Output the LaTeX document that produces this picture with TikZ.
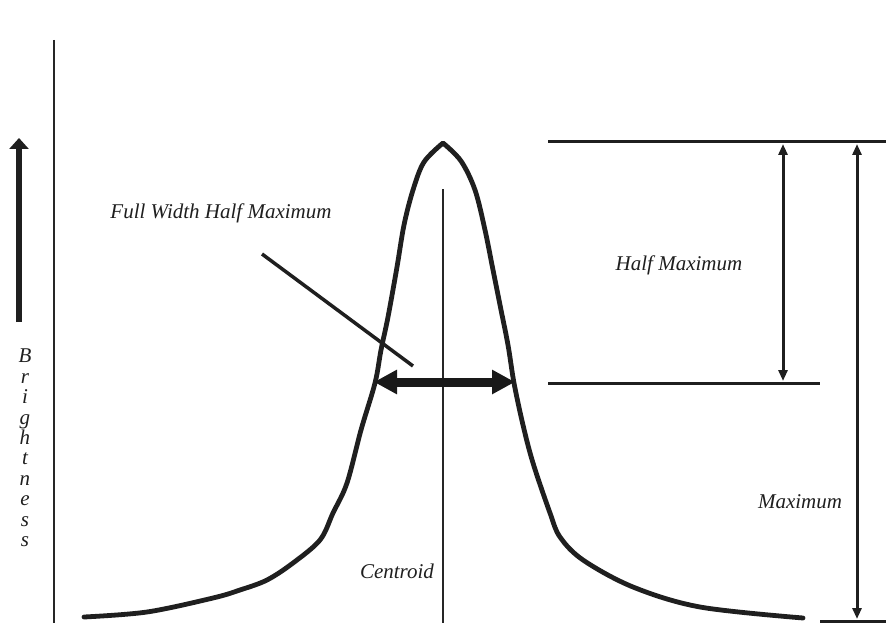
\documentclass[tikz,border=0pt]{standalone}
\usepackage{fontspec}
\setmainfont{Liberation Serif}
\usetikzlibrary{arrows.meta}
\begin{document}
\begin{tikzpicture}[x=1pt,y=-1pt,
  lbl/.style={font=\fontsize{21}{24}\selectfont\itshape, inner sep=0pt, text=black!88},
  curve/.style={line width=4.8pt, line join=round, line cap=round, black!88},
  axisline/.style={line width=2pt, black!85},
  centline/.style={line width=1.6pt, black!85},
  hline/.style={line width=3pt, black!88},
  dimarrow/.style={line width=3pt, black!88, {Triangle[length=11pt,width=9pt]}-{Triangle[length=11pt,width=9pt]}},
  bigarrow/.style={line width=6.5pt, black!88, -{Triangle[length=11pt,width=19pt]}},
  fwhmarrow/.style={line width=9pt, black!90, {Triangle[length=23pt,width=23pt]}-{Triangle[length=23pt,width=23pt]}},
  pointer/.style={line width=3.5pt, black!88}]
\useasboundingbox (0,0) rectangle (886,623);

% coordinates
\coordinate (axT) at (54,40);
\coordinate (axB) at (54,623);
\coordinate (bA) at (19,322);
\coordinate (bB) at (19,138);
\coordinate (cT) at (443,189);
\coordinate (cB) at (443,623);
\coordinate (fL) at (374,382);
\coordinate (fR) at (515,382);
\coordinate (pA) at (262,254);
\coordinate (pB) at (413,366);
\coordinate (t1) at (548,142);
\coordinate (t2) at (886,142);
\coordinate (m1) at (548,383);
\coordinate (m2) at (820,383);
\coordinate (b1) at (820,621);
\coordinate (b2) at (886,621);
\coordinate (h1) at (783,144);
\coordinate (h2) at (783,381);
\coordinate (x1) at (857,144);
\coordinate (x2) at (857,619);

% axis and brightness arrow
\draw[axisline] (axT) -- (axB);
\draw[bigarrow] (bA) -- (bB);
\node[lbl, align=center, anchor=north, font=\fontsize{21}{20.4}\selectfont\itshape] (bright) at (25,349)
  {B\\r\\i\\g\\h\\t\\n\\e\\s\\s};

% centroid line
\draw[centline] (cT) -- (cB);

% curve
\draw[curve] plot[smooth, tension=0.55] coordinates {(84,617) (147,612) (213,598) (240,590) (267,580) (293,563) (320,540) (333,513) (347,483) (361,430) (375,383) (381,350) (388,317) (397,267) (404,225) (413,190) (424,162) (443,143)}
  -- plot[smooth, tension=0.55] coordinates {(443,143) (461,161) (475,190) (485,230) (493,270) (500,305) (508,345) (514,383) (523,425) (533,463) (550,513) (560,537) (583,560) (633,587) (700,607) (803,618)};

% FWHM arrow and pointer
\draw[fwhmarrow] (fL) -- (fR);
\draw[pointer] (pA) -- (pB);

% horizontal reference lines
\draw[hline] (t1) -- (t2);
\draw[hline] (m1) -- (m2);
\draw[hline] (b1) -- (b2);

% dimension arrows
\draw[dimarrow] (h1) -- (h2);
\draw[dimarrow] (x1) -- (x2);

% labels
\node[lbl] (fwhm) at (221,213) {Full Width Half Maximum};
\node[lbl] (halfmax) at (679,265) {Half Maximum};
\node[lbl] (max) at (800,502) {Maximum};
\node[lbl] (centroid) at (397,571) {Centroid};
\end{tikzpicture}
\end{document}
